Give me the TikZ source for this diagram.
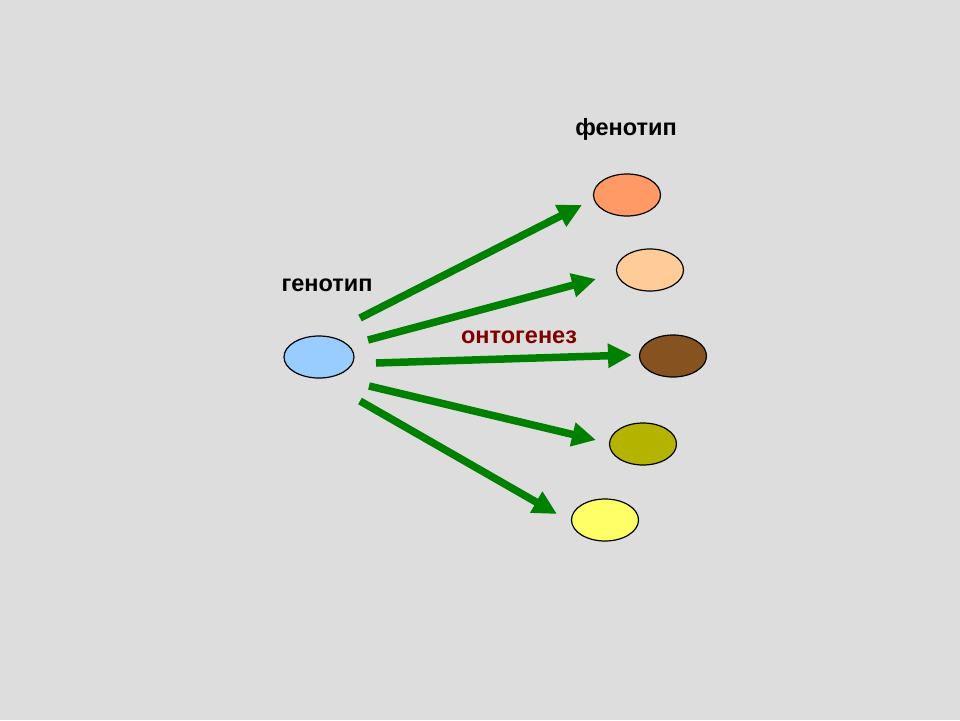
\documentclass[tikz,border=0pt]{standalone}
\usepackage{fontspec}
\setmainfont{Liberation Sans}
\usetikzlibrary{arrows.meta}
\definecolor{bg}{HTML}{DDDDDD}
\definecolor{arrgreen}{HTML}{008000}
\definecolor{ontored}{HTML}{800000}
\definecolor{geno}{HTML}{99CCFF}
\definecolor{ph1}{HTML}{FF9966}
\definecolor{ph2}{HTML}{FFCC99}
\definecolor{ph3}{HTML}{855220}
\definecolor{ph4}{HTML}{B3B300}
\definecolor{ph5}{HTML}{FFFF66}
\tikzset{
  cell/.style={ellipse, draw=black, line width=1.2pt, minimum width=67pt, minimum height=42pt, inner sep=0pt},
  lbl/.style={font=\fontsize{23.5}{26}\selectfont\bfseries, inner sep=0pt},
  garrow/.style={draw=arrgreen, line width=7.5pt, -{Triangle[length=24pt,width=23pt]}},
}
\usetikzlibrary{shapes.geometric}
\begin{document}
\begin{tikzpicture}[x=1pt,y=-1pt]
\fill[bg] (0,0) rectangle (960,720);
\useasboundingbox (0,0) rectangle (960,720);
\node[cell, fill=geno, minimum width=70pt] (g) at (319,357) {};
\node[cell, fill=ph1] (p1) at (627,195) {};
\node[cell, fill=ph2] (p2) at (650,270) {};
\node[cell, fill=ph3] (p3) at (673,356) {};
\node[cell, fill=ph4] (p4) at (643,444) {};
\node[cell, fill=ph5] (p5) at (605,520) {};
\node[lbl] (lg) at (327,285) {генотип};
\node[lbl] (lf) at (626,129) {фенотип};
\node[lbl, text=ontored] (lo) at (519,337) {онтогенез};
\coordinate (s1) at (360,318); \coordinate (e1) at (582,205);
\coordinate (s2) at (368,340); \coordinate (e2) at (596,279);
\coordinate (s3) at (376,363); \coordinate (e3) at (632,355);
\coordinate (s4) at (369,386); \coordinate (e4) at (596,440);
\coordinate (s5) at (360,401); \coordinate (e5) at (557,514);
\draw[garrow] (s1) -- (e1);
\draw[garrow] (s2) -- (e2);
\draw[garrow] (s3) -- (e3);
\draw[garrow] (s4) -- (e4);
\draw[garrow] (s5) -- (e5);
\end{tikzpicture}
\end{document}
